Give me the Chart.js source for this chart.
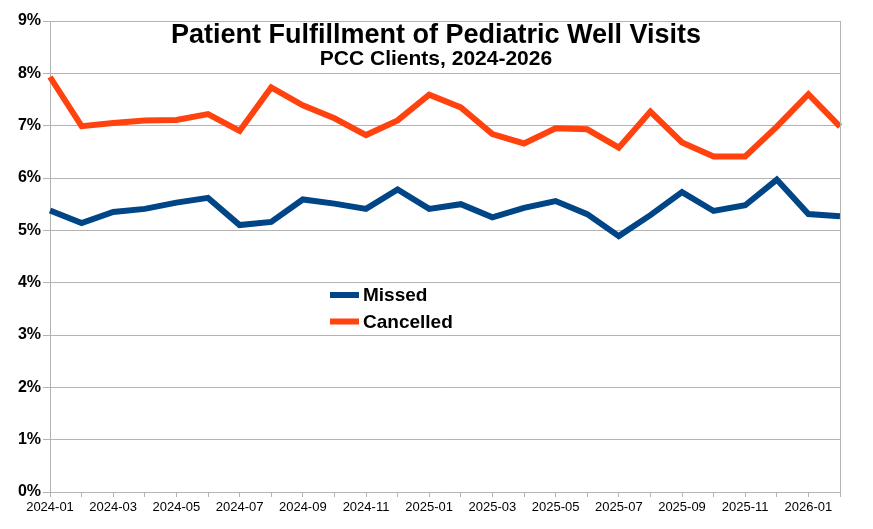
<!DOCTYPE html>
<html>
<head>
<meta charset="utf-8">
<script src="https://cdn.jsdelivr.net/npm/chart.js@4/dist/chart.umd.min.js"></script>
<style>
  html, body { margin: 0; padding: 0; background: #fff; }
</style>
</head>
<body>
<canvas id="chart" width="873" height="529"></canvas>
<script>
// 月ごとのカテゴリ
const months = [
  '2024-01', '2024-02', '2024-03', '2024-04', '2024-05', '2024-06', '2024-07',
  '2024-08', '2024-09', '2024-10', '2024-11', '2024-12', '2025-01', '2025-02',
  '2025-03', '2025-04', '2025-05', '2025-06', '2025-07', '2025-08', '2025-09',
  '2025-10', '2025-11', '2025-12', '2026-01', '2026-02'
];
// 値は % 単位
const missed = [
  5.38, 5.14, 5.35, 5.41, 5.53, 5.62, 5.10, 5.16, 5.59, 5.51, 5.41, 5.78, 5.41,
  5.50, 5.25, 5.43, 5.56, 5.31, 4.89, 5.29, 5.73, 5.37, 5.48, 5.97, 5.31, 5.27
];
const cancelled = [
  7.93, 6.99, 7.05, 7.10, 7.11, 7.22, 6.90, 7.73, 7.39, 7.14, 6.82, 7.10, 7.59,
  7.35, 6.84, 6.66, 6.95, 6.93, 6.58, 7.27, 6.68, 6.41, 6.41, 6.98, 7.60, 6.98
];
const seriesNames = ['Missed', 'Cancelled'];
const titleText = 'Patient Fulfillment of Pediatric Well Visits';
const subtitleText = 'PCC Clients, 2024-2026';

const GRID = '#b3b3b3';
const FONT = '"Liberation Sans", Arial, sans-serif';

// タイトル・凡例・右枠線をプロット領域の上に描く
const overlay = {
  id: 'overlay',
  afterDraw(chart) {
    const ctx = chart.ctx;
    const area = chart.chartArea;
    ctx.save();
    // 右側の枠線
    ctx.strokeStyle = GRID;
    ctx.lineWidth = 1;
    ctx.beginPath();
    ctx.moveTo(Math.round(area.right) + 0.5, area.top);
    ctx.lineTo(Math.round(area.right) + 0.5, area.bottom);
    ctx.stroke();
    // タイトル
    ctx.fillStyle = '#000';
    ctx.textAlign = 'center';
    ctx.textBaseline = 'alphabetic';
    ctx.font = 'bold 27px ' + FONT;
    ctx.fillText(titleText, 436, 43);
    ctx.font = 'bold 21px ' + FONT;
    ctx.fillText(subtitleText, 436, 65);
    // 凡例
    ctx.textAlign = 'left';
    ctx.textBaseline = 'middle';
    ctx.font = 'bold 19px ' + FONT;
    chart.data.datasets.forEach((ds, i) => {
      const y = 295 + i * 26.5;
      ctx.fillStyle = ds.borderColor;
      ctx.fillRect(330, y - 3, 29, 6);
      ctx.fillStyle = '#000';
      ctx.fillText(ds.label, 363, y + 1);
    });
    ctx.restore();
  }
};

const chartData = {
  labels: months,
  datasets: [{
    label: seriesNames[0],
    data: missed,
    borderColor: '#004586',
  }, {
    label: seriesNames[1],
    data: cancelled,
    borderColor: '#ff420e',
  }]
};

const chartOption = {
  responsive: false,
  animation: false,
  devicePixelRatio: 1,
  layout: {
    padding: { top: 21, right: 33, left: 0, bottom: 0 }
  },
  elements: {
    line: { borderWidth: 6, tension: 0, borderJoinStyle: 'miter', fill: false },
    point: { radius: 0, hoverRadius: 0 }
  },
  plugins: {
    legend: { display: false },
    title: { display: false },
    tooltip: { enabled: false }
  },
  scales: {
    x: {
      offset: false,
      grid: { drawOnChartArea: false, drawTicks: true, tickLength: 5, color: GRID },
      border: { color: GRID },
      ticks: {
        autoSkip: false,
        maxRotation: 0,
        padding: 3,
        color: '#000',
        font: { family: FONT, size: 13 },
        callback: function (v, i) { return i % 2 === 0 ? months[i] : ''; }
      },
      afterFit: function (scale) { scale.height = 37; }
    },
    y: {
      min: 0,
      max: 9,
      grid: { color: GRID, tickLength: 7 },
      border: { color: GRID },
      ticks: {
        stepSize: 1,
        padding: 2,
        color: '#000',
        font: { family: FONT, size: 16, weight: 'bold' },
        callback: function (v) { return v + '%'; }
      },
      afterFit: function (scale) { scale.width = 50; }
    }
  }
};

const myChart = new Chart(document.getElementById('chart'), {
  type: 'line',
  data: chartData,
  options: chartOption,
  plugins: [overlay]
});
</script>
</body>
</html>
